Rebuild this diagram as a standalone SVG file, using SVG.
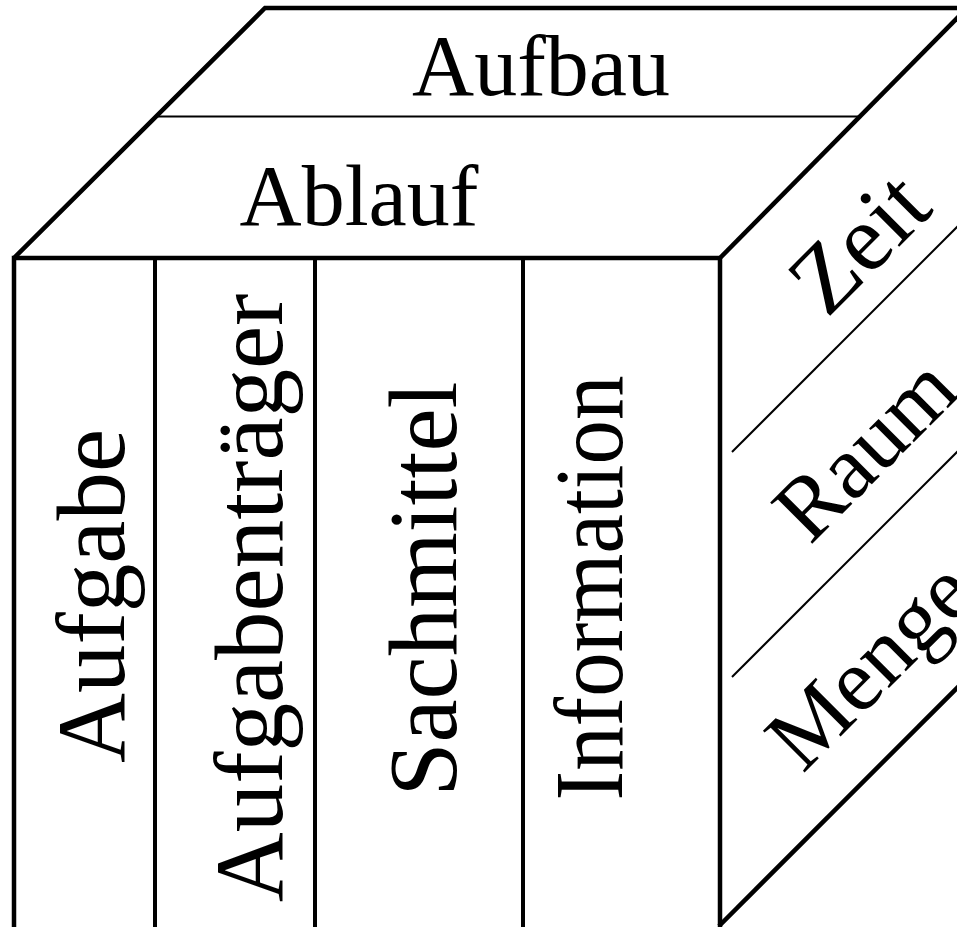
<svg xmlns="http://www.w3.org/2000/svg" width="957" height="927" viewBox="0 0 957 927">
<style>
.thick{fill:none;stroke:#000;stroke-width:4.5;stroke-linejoin:miter;stroke-linecap:butt}
.div{fill:none;stroke:#000;stroke-width:4}
.thin{fill:none;stroke:#000;stroke-width:2}
.t{font-family:"Liberation Serif","Times New Roman",serif;fill:#000;text-anchor:middle}
.h{font-size:86px}
.v{font-size:97px}
.d{font-size:90px}
.z{font-size:95px}
</style>
<rect width="957" height="927" fill="#fff"/>
<g id="top-face">
<polyline class="thick" points="14,258 265,8 972,8"/>
<line class="thin" x1="156" y1="116.5" x2="860" y2="116.5"/>
<text class="t h" x="541" y="95">Aufbau</text>
<text class="t h" x="359" y="225">Ablauf</text>
</g>
<g id="front-face">
<polyline class="thick" points="14,935 14,258 720,258 720,935"/>
<line class="div" x1="155" y1="258" x2="155" y2="935"/>
<line class="div" x1="315" y1="258" x2="315" y2="935"/>
<line class="div" x1="523" y1="258" x2="523" y2="935"/>
<text class="t v" transform="translate(124,596) rotate(-90)">Aufgabe</text>
<text class="t v" transform="translate(282,598) rotate(-90)">Aufgabenträger</text>
<text class="t v" transform="translate(456,589) rotate(-90)">Sachmittel</text>
<text class="t v" transform="translate(622,588) rotate(-90)" textLength="425" lengthAdjust="spacingAndGlyphs">Information</text>
</g>
<g id="right-face">
<line class="thick" x1="720" y1="258" x2="975" y2="0"/>
<line class="thick" x1="719" y1="926" x2="975" y2="670"/>
<line class="thin" x1="732" y1="452" x2="970" y2="214"/>
<line class="thin" x1="732" y1="677" x2="970" y2="439"/>
<text class="t z" transform="translate(881,265) rotate(-45)">Zeit</text>
<text class="t d" transform="translate(886,470) rotate(-45)">Raum</text>
<text class="t d" transform="translate(891,686) rotate(-45)">Menge</text>
</g>
</svg>
